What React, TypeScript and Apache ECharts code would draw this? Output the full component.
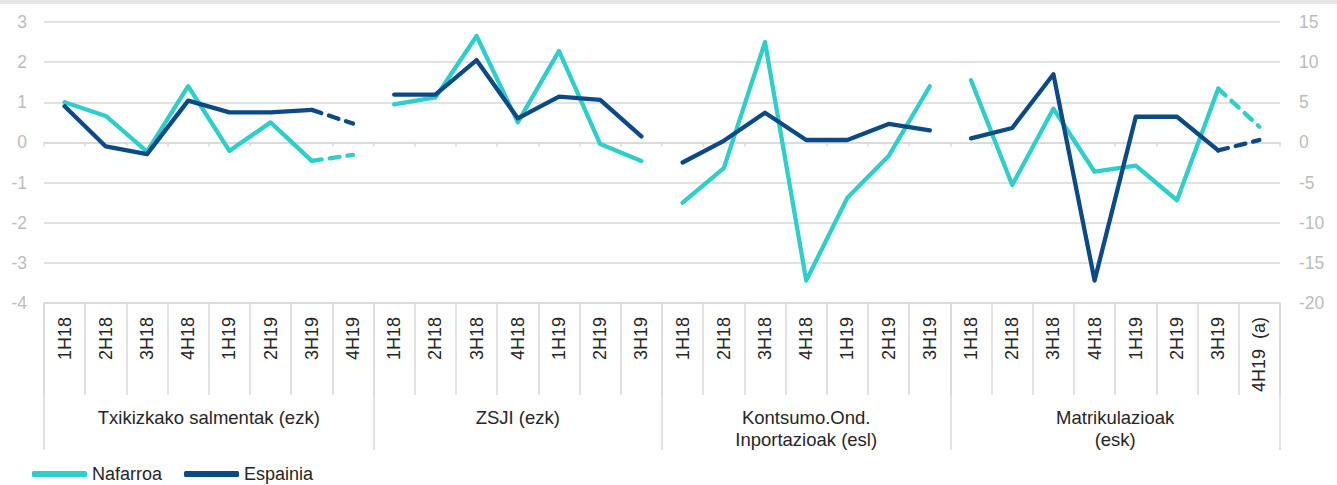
import React, { useEffect, useRef } from "react";
import * as echarts from "echarts";

// ---- DATA ----
const groupNames = [
  "Txikizkako salmentak (ezk)",
  "ZSJI (ezk)",
  "Kontsumo.Ond.\nInportazioak (esl)",
  "Matrikulazioak\n(esk)",
];
const groupCategories = [
  ["1H18", "2H18", "3H18", "4H18", "1H19", "2H19", "3H19", "4H19"],
  ["1H18", "2H18", "3H18", "4H18", "1H19", "2H19", "3H19"],
  ["1H18", "2H18", "3H18", "4H18", "1H19", "2H19", "3H19"],
  ["1H18", "2H18", "3H18", "4H18", "1H19", "2H19", "3H19", "4H19  (a)"],
];
// 0 = left axis (-4..3), 1 = right axis (-20..15)
const groupYAxis = [0, 0, 1, 1];
// last point of the group drawn dashed (provisional)
const groupDashedLast = [true, false, false, true];

const nafarroaValues = [
  [1.0, 0.66, -0.23, 1.4, -0.21, 0.5, -0.46, -0.31],
  [0.95, 1.12, 2.65, 0.5, 2.28, -0.04, -0.46],
  [-7.5, -3.2, 12.5, -17.2, -6.9, -1.7, 7.0],
  [7.75, -5.3, 4.2, -3.65, -2.9, -7.2, 6.7, 1.95],
];
const espainiaValues = [
  [0.9, -0.1, -0.29, 1.04, 0.75, 0.75, 0.81, 0.47],
  [1.19, 1.19, 2.05, 0.6, 1.14, 1.06, 0.15],
  [-2.5, 0.2, 3.7, 0.3, 0.3, 2.3, 1.5],
  [0.5, 1.8, 8.5, -17.2, 3.2, 3.2, -1.0, 0.3],
];

const leftAxisRange = { min: -4, max: 3, interval: 1 };
const rightAxisRange = { min: -20, max: 15, interval: 5 };

const seriesDefs = [
  { name: "Nafarroa", color: "#2ECFCB", values: nafarroaValues },
  { name: "Espainia", color: "#0B4A87", values: espainiaValues },
];

// ---- STYLE ----
const FONT = "'Liberation Sans', Arial, sans-serif";
const GRID_COLOR = "#d9d9d9";
const TEXT_COLOR = "#262626";
const AXIS_TEXT = "#bcbcbc";

function buildOption() {
  const categories: string[] = groupCategories.flat();
  const total = categories.length;
  const offsets: number[] = [];
  let acc = 0;
  groupCategories.forEach((g) => {
    offsets.push(acc);
    acc += g.length;
  });
  const boundaries = [...offsets, total];
  const centers = groupCategories.map((g, i) => offsets[i] + g.length / 2);

  const series: any[] = [];
  seriesDefs.forEach((sd) => {
    sd.values.forEach((vals, gi) => {
      const o = offsets[gi];
      const n = vals.length;
      const solid: (number | null)[] = new Array(total).fill(null);
      const dashed: (number | null)[] = new Array(total).fill(null);
      const solidEnd = groupDashedLast[gi] ? n - 1 : n;
      for (let i = 0; i < solidEnd; i++) solid[o + i] = vals[i];
      const base = {
        name: sd.name,
        type: "line",
        xAxisIndex: 0,
        yAxisIndex: groupYAxis[gi],
        color: sd.color,
        symbol: "none",
        connectNulls: false,
        silent: true,
      };
      series.push({
        ...base,
        data: solid,
        lineStyle: { width: 4.3, color: sd.color, cap: "round", join: "round" },
      });
      if (groupDashedLast[gi]) {
        dashed[o + n - 2] = vals[n - 2];
        dashed[o + n - 1] = vals[n - 1];
        series.push({
          ...base,
          data: dashed,
          lineStyle: {
            width: 4.3,
            color: sd.color,
            type: [10, 8],
            cap: "round",
            join: "round",
          },
        });
      }
    });
  });

  return {
    animation: false,
    backgroundColor: "#ffffff",
    textStyle: { fontFamily: FONT },
    graphic: [
      {
        type: "rect",
        left: 0,
        top: 0,
        shape: { x: 0, y: 0, width: 1337, height: 4 },
        style: { fill: "#e6e6e6" },
        silent: true,
      },
    ],
    grid: {
      left: 44,
      right: 57,
      top: 22,
      bottom: 182,
      containLabel: false,
      outerBoundsMode: "none",
    },
    legend: {
      data: seriesDefs.map((s) => s.name),
      left: 27,
      top: 460,
      icon: "roundRect",
      itemWidth: 55,
      itemHeight: 6,
      itemGap: 22,
      textStyle: { fontSize: 18, color: TEXT_COLOR, fontFamily: FONT },
    },
    xAxis: [
      {
        type: "category",
        data: categories,
        position: "bottom",
        boundaryGap: true,
        axisLine: { show: true, onZero: false, lineStyle: { color: GRID_COLOR, width: 1.5 } },
        axisTick: {
          show: true,
          interval: 0,
          length: 92,
          lineStyle: { color: GRID_COLOR, width: 1.5 },
        },
        axisLabel: {
          interval: 0,
          rotate: 90,
          margin: 14,
          fontSize: 18,
          color: TEXT_COLOR,
          fontFamily: FONT,
        },
        splitLine: { show: false },
      },
      {
        type: "value",
        min: 0,
        max: total,
        position: "bottom",
        axisLine: { show: false, onZero: false },
        axisTick: {
          show: true,
          customValues: boundaries,
          length: 147,
          lineStyle: { color: GRID_COLOR, width: 1.5 },
        },
        axisLabel: {
          show: true,
          customValues: centers,
          margin: 103,
          fontSize: 18.5,
          lineHeight: 22,
          color: TEXT_COLOR,
          fontFamily: FONT,
          formatter: (v: number) => {
            const idx = centers.findIndex((c) => Math.abs(c - v) < 1e-6);
            return idx >= 0 ? groupNames[idx] : "";
          },
        },
        splitLine: { show: false },
      },
      {
        type: "category",
        data: categories,
        position: "bottom",
        boundaryGap: true,
        axisLine: {
          show: true,
          onZero: true,
          onZeroAxisIndex: 0,
          lineStyle: { color: GRID_COLOR, width: 1.5 },
        },
        axisTick: {
          show: true,
          interval: 0,
          length: 4,
          lineStyle: { color: GRID_COLOR, width: 1.5 },
        },
        axisLabel: { show: false },
        splitLine: { show: false },
      },
    ],
    yAxis: [
      {
        type: "value",
        position: "left",
        ...leftAxisRange,
        axisLine: { show: false },
        axisTick: { show: false },
        splitLine: { show: true, lineStyle: { color: GRID_COLOR, width: 1.5 } },
        axisLabel: { color: AXIS_TEXT, fontSize: 17.5, margin: 17, fontFamily: FONT },
      },
      {
        type: "value",
        position: "right",
        ...rightAxisRange,
        axisLine: { show: false },
        axisTick: { show: false },
        splitLine: { show: false },
        axisLabel: { color: AXIS_TEXT, fontSize: 17.5, margin: 19, fontFamily: FONT },
      },
    ],
    series,
  };
}

export default function App() {
  const ref = useRef<HTMLDivElement>(null);
  useEffect(() => {
    if (!ref.current) return;
    const chart = echarts.init(ref.current, undefined, { renderer: "svg" });
    chart.setOption(buildOption() as any);
    return () => chart.dispose();
  }, []);
  return (
    <div
      ref={ref}
      style={{
        position: "absolute",
        left: 0,
        top: 0,
        width: 1337,
        height: 485,
        background: "#ffffff",
      }}
    />
  );
}
